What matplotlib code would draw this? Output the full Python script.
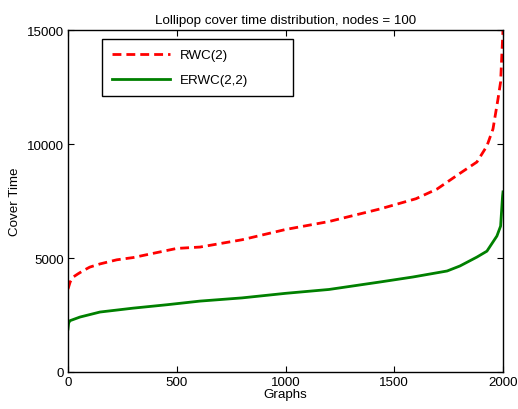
import matplotlib.pyplot as plt
import numpy as np

# values (graph index -> sorted cover time)
graphs_rwc = [0, 10, 23, 45, 69, 100, 147, 224, 300, 377, 500, 607, 800, 1000, 1200,
              1434, 1600, 1697, 1800, 1880, 1926, 1954, 1977, 1989, 1998, 2000]
rwc = [3640, 3950, 4160, 4300, 4440, 4600, 4740, 4920, 5020, 5175, 5420, 5480, 5800,
       6250, 6600, 7150, 7600, 8026, 8700, 9210, 9912, 10660, 11975, 12720, 14600, 15000]

graphs_erwc = [0, 3, 9, 55, 147, 299, 455, 607, 800, 1000, 1200, 1434, 1586, 1743,
               1802, 1880, 1926, 1972, 1989, 1998, 2000]
erwc = [1886, 2150, 2250, 2410, 2630, 2800, 2950, 3110, 3250, 3450, 3620, 3947, 4167,
        4430, 4650, 5040, 5300, 5965, 6400, 7720, 7900]

plt.rcParams['font.family'] = ['Liberation Sans', 'DejaVu Sans']
fs = 9.6
fig = plt.figure(figsize=(5.18, 4.10), dpi=100)
ax = fig.add_axes([68/518, 1 - 373/410, 435/518, 342/410])

ax.plot(graphs_rwc, rwc, color='#ff0000', linestyle='--', linewidth=2, dashes=(3.2, 1.8), label='RWC(2)')
ax.plot(graphs_erwc, erwc, color='#008000', linestyle='-', linewidth=2, label='ERWC(2,2)')

ax.set_xlim(0, 2000)
ax.set_ylim(0, 15000)
ax.set_xticks(np.arange(0, 2001, 500))
ax.set_yticks(np.arange(0, 15001, 5000))
ax.tick_params(direction='in', top=True, right=True, labelsize=fs, length=4, pad=3)
for s in ax.spines.values():
    s.set_linewidth(1)
ax.set_title('Lollipop cover time distribution, nodes = 100', fontsize=fs, pad=5)
ax.set_xlabel('Graphs', fontsize=fs, labelpad=0)
ax.set_ylabel('Cover Time', fontsize=fs, labelpad=4)

# legend box stretched to the width of the matlab one
leg = ax.legend(loc='upper left', bbox_to_anchor=(34/435, 1 - 9/342 - 0.2, 191/435, 0.2),
                mode='expand', fontsize=fs, fancybox=False, framealpha=1, edgecolor='black',
                handlelength=4.35, borderpad=0.75, labelspacing=0.95, handletextpad=0.75,
                borderaxespad=0)
leg.get_frame().set_linewidth(1)

fig.savefig('out.png', dpi=100)
